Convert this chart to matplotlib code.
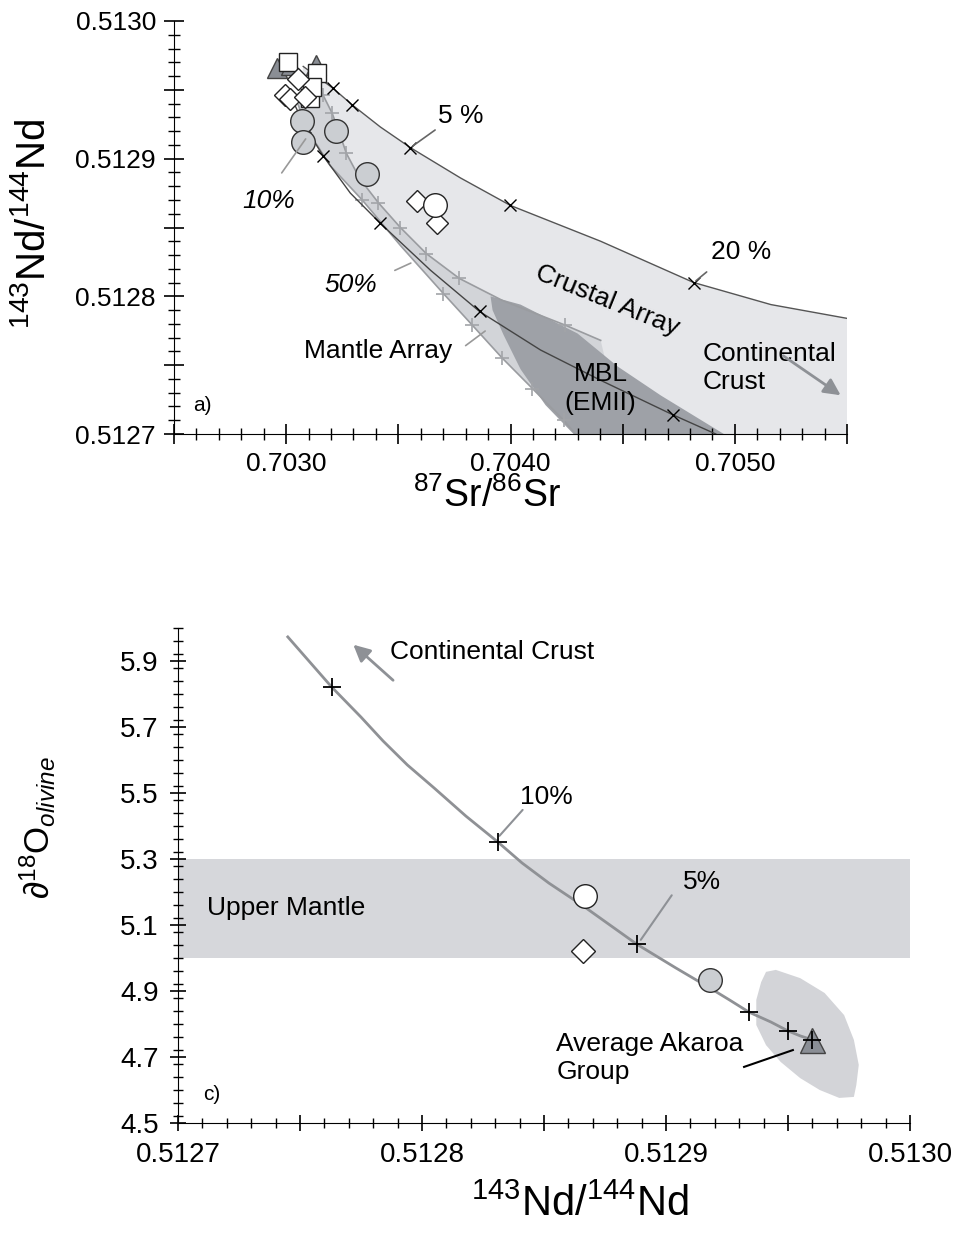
import matplotlib
matplotlib.use('Agg')
import matplotlib.pyplot as plt
from matplotlib.ticker import FixedLocator, MultipleLocator, FuncFormatter

plt.rcParams['font.family'] = ['Liberation Sans', 'DejaVu Sans']
plt.rcParams['mathtext.fontset'] = 'custom'
plt.rcParams['mathtext.rm'] = 'Liberation Sans'
plt.rcParams['mathtext.it'] = 'Liberation Sans:italic'

# ---------------- panel a) : 87Sr/86Sr vs 143Nd/144Nd ----------------
# upper boundary of crustal array (black x = % marks)
crust_sr = [0.703076, 0.703210, 0.703295, 0.703420, 0.703554, 0.703777, 0.704000,
            0.704402, 0.704817, 0.705161, 0.705500]
crust_nd = [0.512967, 0.512951, 0.512939, 0.512923, 0.512908, 0.512886, 0.512866,
            0.512840, 0.512810, 0.512794, 0.512784]
crust_tick_idx = [1, 2, 4, 6, 8]

# black mixing curve through mantle array / MBL
mix_sr = [0.703018, 0.703085, 0.703165, 0.703286, 0.703420, 0.703643, 0.703862,
          0.704134, 0.704402, 0.704723, 0.704915]
mix_nd = [0.512946, 0.512923, 0.512902, 0.512875, 0.512853, 0.512819, 0.512789,
          0.512761, 0.512739, 0.512714, 0.512700]
mix_tick_idx = [1, 2, 4, 6, 9]

# mantle array edges (grey + marks)
mupper_sr = [0.703116, 0.703165, 0.703205, 0.703241, 0.703268, 0.703330, 0.703411,
             0.703509, 0.703625, 0.703772, 0.703964, 0.704245, 0.704402]
mupper_nd = [0.512959, 0.512946, 0.512933, 0.512917, 0.512904, 0.512885, 0.512868,
             0.512850, 0.512831, 0.512813, 0.512797, 0.512779, 0.512768]
mupper_tick_idx = [1, 2, 4, 6, 7, 8, 9, 11]
mlower_sr = [0.703054, 0.703094, 0.703196, 0.703339, 0.703509, 0.703701, 0.703830,
             0.703964, 0.704098, 0.704237, 0.704290]
mlower_nd = [0.512939, 0.512921, 0.512895, 0.512870, 0.512837, 0.512802, 0.512779,
             0.512755, 0.512733, 0.512710, 0.512700]
mlower_tick_idx = [3, 5, 6, 7, 8, 9]

# MBL (EMII) field outline
mbl_sr = [0.703911, 0.704045, 0.704299, 0.704478, 0.704670, 0.704951,
          0.704281, 0.704156, 0.704045, 0.703969, 0.703920]
mbl_nd = [0.512800, 0.512794, 0.512773, 0.512749, 0.512728, 0.512700,
          0.512700, 0.512721, 0.512747, 0.512772, 0.512790]

# samples
tri_sr = [0.702960, 0.703022, 0.703134]
tri_nd = [0.512966, 0.512968, 0.512968]
sq_sr = [0.703009, 0.703138, 0.703107, 0.703115]
sq_nd = [0.512970, 0.512962, 0.512944, 0.512952]
dia_sr = [0.703054, 0.702995, 0.703018, 0.703085, 0.703585, 0.703674]
dia_nd = [0.512958, 0.512946, 0.512943, 0.512945, 0.512869, 0.512853]
gcirc_sr = [0.703071, 0.703076, 0.703223, 0.703362]
gcirc_nd = [0.512927, 0.512912, 0.512920, 0.512889]
wcirc_sr = [0.703665]
wcirc_nd = [0.512866]

# ---------------- panel c) : 143Nd/144Nd vs d18O olivine ----------------
oc_nd = [0.512745, 0.512754, 0.512763, 0.512775, 0.512784, 0.512794, 0.512805,
         0.512818, 0.512831, 0.512841, 0.512852, 0.512866, 0.512877, 0.512888,
         0.512904, 0.512918, 0.512926, 0.512934, 0.512943, 0.512950, 0.512955, 0.512960]
oc_o = [5.973, 5.897, 5.821, 5.730, 5.658, 5.585, 5.515, 5.430, 5.352, 5.288, 5.227,
        5.158, 5.100, 5.042, 4.970, 4.909, 4.873, 4.836, 4.806, 4.779, 4.764, 4.752]
oc_tick_idx = [2, 8, 13, 17, 19, 21]

akaroa_nd = [0.512945, 0.512955, 0.512965, 0.512973, 0.512977, 0.512979, 0.512978,
             0.512977, 0.512971, 0.512963, 0.512955, 0.512947, 0.512941, 0.512937,
             0.512937, 0.512939, 0.512941]
akaroa_o = [4.964, 4.939, 4.894, 4.827, 4.752, 4.676, 4.615, 4.579, 4.576, 4.600,
            4.636, 4.685, 4.736, 4.797, 4.873, 4.927, 4.958]

upper_mantle = (5.0, 5.3)

c_wcirc = (0.512867, 5.188)
c_dia = (0.512866, 5.021)
c_gcirc = (0.512918, 4.933)
c_tri = (0.512960, 4.752)

light = '#e6e7ea'
mid = '#d2d4d8'
dark = '#9ea1a7'
tri_col = '#8a8e95'
circ_col = '#cbced2'

fig = plt.figure(figsize=(9.7, 12.39), dpi=100)

# ============ panel a ============
ax = fig.add_axes([174/970, 1-434/1239, 673/970, 413/1239])
ax.set_xlim(0.7025, 0.7055)
ax.set_ylim(0.5127, 0.5130)

poly_sr = crust_sr + [0.7055, 0.7055] + mlower_sr[::-1]
poly_nd = crust_nd + [crust_nd[-1], 0.5127] + mlower_nd[::-1]
ax.fill(poly_sr, poly_nd, color=light, lw=0, zorder=1)
ax.fill(mupper_sr + [0.7045] + mlower_sr[::-1], mupper_nd + [0.5127] + mlower_nd[::-1],
        color=mid, lw=0, zorder=1.2)
ax.fill(mbl_sr, mbl_nd, color=dark, lw=0, zorder=1.4)

ax.plot(crust_sr, crust_nd, color='#555555', lw=1, zorder=2)
ax.plot(mix_sr, mix_nd, color='#444444', lw=1, zorder=2.2)
ax.plot(mupper_sr, mupper_nd, color='#9a9ca0', lw=1.2, zorder=2)
ax.plot(mlower_sr, mlower_nd, color='#9a9ca0', lw=1.2, zorder=2)
ax.plot([mupper_sr[i] for i in mupper_tick_idx], [mupper_nd[i] for i in mupper_tick_idx],
        ls='none', marker='+', ms=10, mew=1.2, color='#a2a4a8', zorder=2.1)
ax.plot([mlower_sr[i] for i in mlower_tick_idx], [mlower_nd[i] for i in mlower_tick_idx],
        ls='none', marker='+', ms=10, mew=1.2, color='#a2a4a8', zorder=2.1)
ax.plot([crust_sr[i] for i in crust_tick_idx], [crust_nd[i] for i in crust_tick_idx],
        ls='none', marker='x', ms=8, mew=1, color='black', zorder=2.3)
ax.plot([mix_sr[i] for i in mix_tick_idx], [mix_nd[i] for i in mix_tick_idx],
        ls='none', marker='x', ms=8, mew=1, color='black', zorder=2.3)

ax.plot(gcirc_sr, gcirc_nd, ls='none', marker='o', ms=17, mfc=circ_col, mec='#333333', mew=1, zorder=3)
ax.plot(tri_sr, tri_nd, ls='none', marker='^', ms=15, mfc=tri_col, mec='#444444', mew=1, zorder=3.2)
ax.plot(sq_sr, sq_nd, ls='none', marker='s', ms=13, mfc='white', mec='#222222', mew=1, zorder=3.4)
ax.plot(dia_sr, dia_nd, ls='none', marker='D', ms=11, mfc='white', mec='#222222', mew=1, zorder=3.6)
ax.plot(wcirc_sr, wcirc_nd, ls='none', marker='o', ms=17, mfc='white', mec='#222222', mew=1, zorder=3.8)

ax.annotate('', xy=(0.703554, 0.512908), xytext=(0.703674, 0.512922),
            arrowprops=dict(arrowstyle='-', color='#666666', lw=1.2), zorder=4)
ax.text(0.703777, 0.512931, '5 %', fontsize=19, ha='center', va='center')
ax.annotate('', xy=(0.704817, 0.512810), xytext=(0.704884, 0.512819),
            arrowprops=dict(arrowstyle='-', color='#666666', lw=1.2), zorder=4)
ax.text(0.705027, 0.512832, '20 %', fontsize=19, ha='center', va='center')
ax.annotate('', xy=(0.703094, 0.512916), xytext=(0.702973, 0.512888),
            arrowprops=dict(arrowstyle='-', color='#999999', lw=1.2), zorder=4)
ax.text(0.702920, 0.512869, '10%', fontsize=19, style='italic', ha='center', va='center')
ax.annotate('', xy=(0.703567, 0.512825), xytext=(0.703473, 0.512818),
            arrowprops=dict(arrowstyle='-', color='#999999', lw=1.2), zorder=4)
ax.text(0.703286, 0.512808, '50%', fontsize=19, style='italic', ha='center', va='center')
ax.annotate('', xy=(0.703897, 0.512776), xytext=(0.703790, 0.512763),
            arrowprops=dict(arrowstyle='-', color='#999999', lw=1.2), zorder=4)
ax.text(0.703411, 0.512760, 'Mantle Array', fontsize=19, ha='center', va='center')
ax.text(0.704433, 0.512797, 'Crustal Array', fontsize=19, ha='center', va='center',
        rotation=-22, rotation_mode='anchor')
ax.text(0.704857, 0.512748, 'Continental\nCrust', fontsize=19, ha='left', va='center',
        linespacing=1.25)
ax.annotate('', xy=(0.705482, 0.512727), xytext=(0.705205, 0.512758),
            arrowprops=dict(arrowstyle='-|>', color='#8e9196', lw=2, mutation_scale=25), zorder=4)
ax.text(0.704402, 0.512733, 'MBL\n(EMII)', fontsize=19, ha='center', va='center',
        linespacing=1.25, zorder=4)
ax.text(0.702625, 0.512721, 'a)', fontsize=15, ha='center', va='center')

ax.xaxis.set_major_locator(MultipleLocator(0.0005))
ax.xaxis.set_minor_locator(MultipleLocator(0.0001))
ax.yaxis.set_major_locator(MultipleLocator(0.00005))
ax.yaxis.set_minor_locator(MultipleLocator(0.00001))
sr_labels = [0.7030, 0.7040, 0.7050]
nd_labels = [0.5127, 0.5128, 0.5129, 0.5130]
ax.xaxis.set_major_formatter(FuncFormatter(
    lambda v, p: '%.4f' % v if min(abs(v - s) for s in sr_labels) < 1e-7 else ''))
ax.yaxis.set_major_formatter(FuncFormatter(
    lambda v, p: '%.4f' % v if min(abs(v - s) for s in nd_labels) < 1e-8 else ''))

for a in ['top', 'right']:
    ax.spines[a].set_visible(False)
ax.tick_params(which='major', direction='inout', length=14, width=1.2, labelsize=19, pad=6)
ax.tick_params(which='minor', direction='inout', length=8, width=1)
ax.set_xlabel(r'$^{\mathrm{87}}$Sr/$^{\mathrm{86}}$Sr', fontsize=27)
ax.xaxis.set_label_coords(0.465, -0.105)
ax.set_ylabel(r'$^{\mathrm{143}}$Nd/$^{\mathrm{144}}$Nd', fontsize=29)
ax.yaxis.set_label_coords(-0.18, 0.508)

# ============ panel c ============
bx = fig.add_axes([178/970, 1-1123/1239, 732/970, 495/1239])
bx.set_xlim(0.5127, 0.5130)
bx.set_ylim(4.5, 6.0)

bx.axhspan(upper_mantle[0], upper_mantle[1], color='#d6d7db', lw=0, zorder=1)
bx.fill(akaroa_nd, akaroa_o, color='#d3d4d8', lw=0, zorder=1.2)
bx.plot(oc_nd, oc_o, color='#8f9195', lw=2, zorder=2)
bx.plot([oc_nd[i] for i in oc_tick_idx], [oc_o[i] for i in oc_tick_idx],
        ls='none', marker='+', ms=13, mew=1.3, color='black', zorder=4)

bx.plot(*c_wcirc, ls='none', marker='o', ms=17, mfc='white', mec='#222222', mew=1, zorder=3)
bx.plot(*c_dia, ls='none', marker='D', ms=12, mfc='white', mec='#222222', mew=1, zorder=3)
bx.plot(*c_gcirc, ls='none', marker='o', ms=17, mfc=circ_col, mec='#333333', mew=1, zorder=3)
bx.plot(*c_tri, ls='none', marker='^', ms=18, mfc=tri_col, mec='#444444', mew=1, zorder=3)

bx.text(0.512787, 5.927, 'Continental Crust', fontsize=19, ha='left', va='center')
bx.annotate('', xy=(0.512771, 5.955), xytext=(0.512789, 5.836),
            arrowprops=dict(arrowstyle='-|>', color='#8e9196', lw=2, mutation_scale=25))
bx.annotate('', xy=(0.512831, 5.364), xytext=(0.512842, 5.455),
            arrowprops=dict(arrowstyle='-', color='#8e9196', lw=1.5))
bx.text(0.512840, 5.488, '10%', fontsize=19, ha='left', va='center')
bx.annotate('', xy=(0.512889, 5.048), xytext=(0.512903, 5.197),
            arrowprops=dict(arrowstyle='-', color='#8e9196', lw=1.5))
bx.text(0.512907, 5.230, '5%', fontsize=19, ha='left', va='center')
bx.text(0.512712, 5.152, 'Upper Mantle', fontsize=19, ha='left', va='center')
bx.text(0.512855, 4.697, 'Average Akaroa\nGroup', fontsize=19, ha='left', va='center',
        linespacing=1.2)
bx.plot([0.512932, 0.512952], [4.670, 4.721], color='black', lw=1.5, zorder=4)
bx.text(0.512714, 4.585, 'c)', fontsize=15, ha='center', va='center')

bx.xaxis.set_major_locator(MultipleLocator(0.00005))
bx.xaxis.set_minor_locator(MultipleLocator(0.00001))
bx.yaxis.set_major_locator(FixedLocator([4.5, 4.7, 4.9, 5.1, 5.3, 5.5, 5.7, 5.9]))
bx.yaxis.set_minor_locator(MultipleLocator(0.04))
bx.xaxis.set_major_formatter(FuncFormatter(
    lambda v, p: '%.4f' % v if min(abs(v - s) for s in nd_labels) < 1e-8 else ''))
bx.yaxis.set_major_formatter(FuncFormatter(lambda v, p: '%.1f' % v))

for a in ['top', 'right']:
    bx.spines[a].set_visible(False)
bx.tick_params(which='major', direction='inout', length=12, width=1.2, labelsize=20, pad=8)
bx.tick_params(which='minor', direction='inout', length=7, width=1)
bx.set_xlabel(r'$^{\mathrm{143}}$Nd/$^{\mathrm{144}}$Nd', fontsize=30)
bx.xaxis.set_label_coords(0.549, -0.125)
bx.set_ylabel('\u2202' + r'$^{\mathrm{18}}$O$_{olivine}$', fontsize=25)
bx.yaxis.set_label_coords(-0.164, 0.596)

fig.savefig('out.png', dpi=100)
